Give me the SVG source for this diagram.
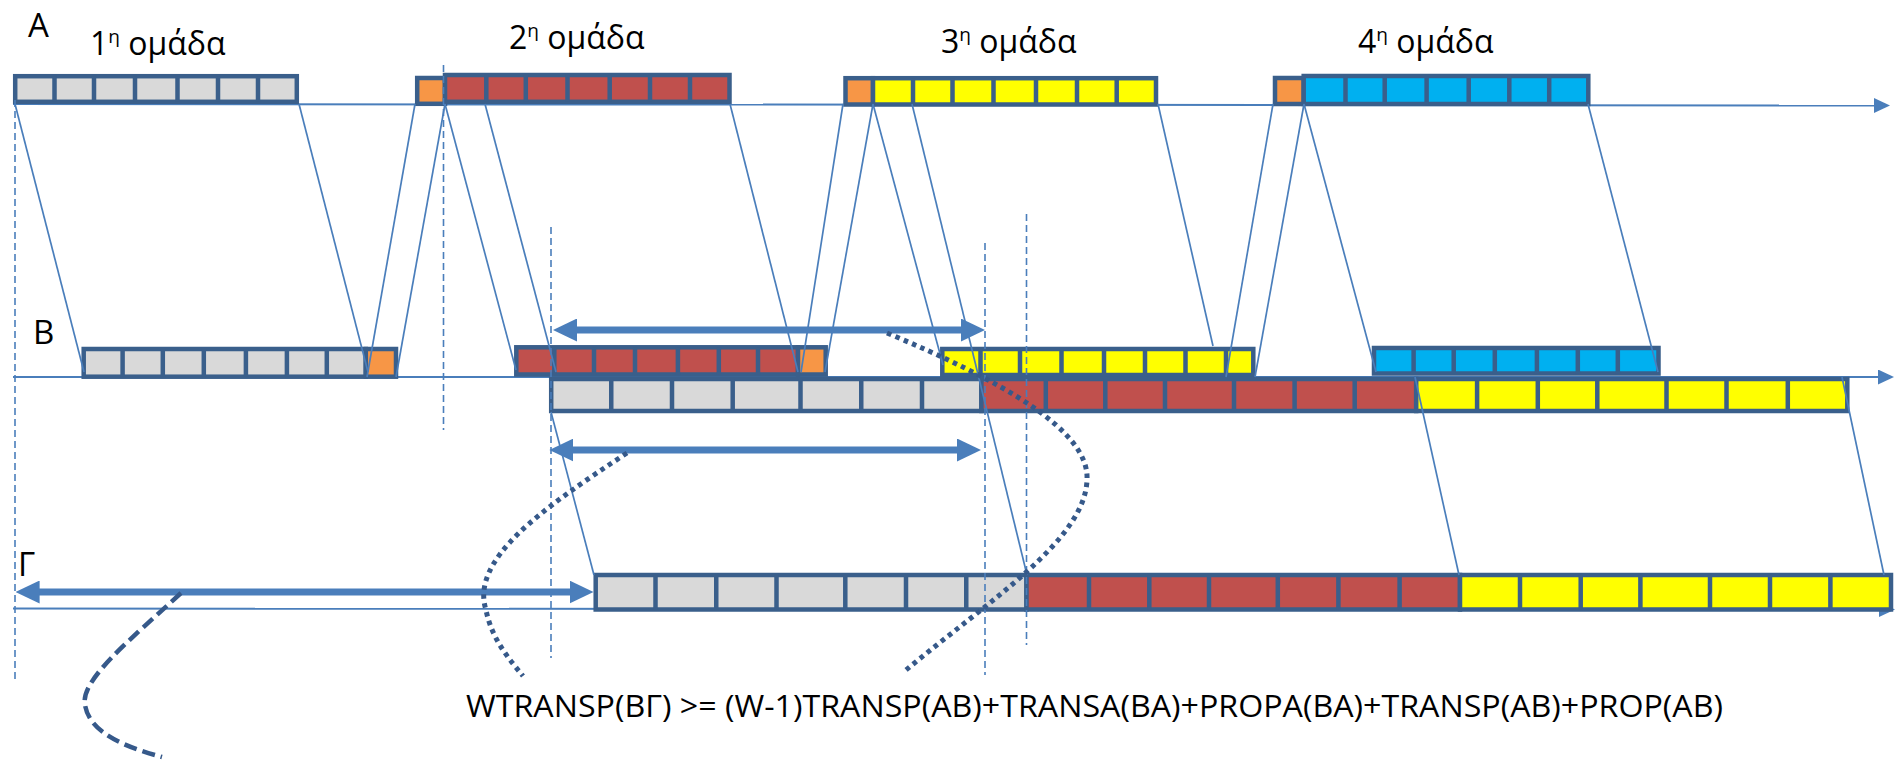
<svg xmlns="http://www.w3.org/2000/svg" width="1897" height="762" viewBox="0 0 1897 762">
<style>
.cell{stroke:#3A5F8B;stroke-width:4.5}
.div{stroke:#3A5F8B;stroke-width:4.5;fill:none}
.gray{fill:#D9D9D9}.red{fill:#C0504D}.org{fill:#F79646}.yel{fill:#FFFF00}.blu{fill:#00B0F0}
.axis{stroke:#4A7EBB;stroke-width:2;fill:none}
.thin{stroke:#4A7EBB;stroke-width:1.7;fill:none}
.vdash{stroke:#4A7EBB;stroke-width:1.6;stroke-dasharray:7 4;fill:none}
.dbl{stroke:#4A7EBB;stroke-width:7;fill:none}
.dot{stroke:#36598A;stroke-width:5;stroke-dasharray:4.5 4.5;fill:none}
.dash{stroke:#36598A;stroke-width:4.5;stroke-dasharray:13 6;fill:none}
text{font-family:"Open Sans","DejaVu Sans",sans-serif;fill:#000}
.lbl{font-size:32px}
.sup{font-size:19px}
.row{font-size:33px}
</style>
<defs>
<marker id="tri" markerUnits="userSpaceOnUse" markerWidth="16" markerHeight="15" refX="1" refY="7.5" orient="auto"><path d="M0,0 L16,7.5 L0,15 z" fill="#4A7EBB"/></marker>
<marker id="big" markerUnits="userSpaceOnUse" markerWidth="24" markerHeight="23" refX="1" refY="11.5" orient="auto-start-reverse"><path d="M0,0 L24,11.5 L0,23 z" fill="#4A7EBB"/></marker>
</defs>
<rect width="1897" height="762" fill="#fff"/>

<g id="axes">
<path class="axis" d="M13,104 L1875,105.5" marker-end="url(#tri)"/>
<path class="axis" d="M13,377 L1879,377" marker-end="url(#tri)"/>
<path class="axis" d="M13,608.5 L1880,609.5" marker-end="url(#tri)"/>
</g>

<g id="labels">
<text class="row" x="28" y="37">A</text>
<text class="row" x="33" y="344">B</text>
<text class="row" x="18" y="576">Γ</text>
<text class="lbl" x="90" y="55">1<tspan class="sup" dy="-12">η</tspan><tspan dy="12"> ομάδα</tspan></text>
<text class="lbl" x="509" y="49">2<tspan class="sup" dy="-12">η</tspan><tspan dy="12"> ομάδα</tspan></text>
<text class="lbl" x="941" y="53">3<tspan class="sup" dy="-12">η</tspan><tspan dy="12"> ομάδα</tspan></text>
<text class="lbl" x="1358" y="53">4<tspan class="sup" dy="-12">η</tspan><tspan dy="12"> ομάδα</tspan></text>
</g>

<g id="A-group1">
<rect class="cell gray" x="15.2" y="76.2" width="281.6" height="25.6"/>
<path class="div" d="M54.5,76.2V101.8M94,76.2V101.8M135,76.2V101.8M177.5,76.2V101.8M218,76.2V101.8M258,76.2V101.8"/>
</g>
<g id="A-group2">
<rect class="cell org" x="417.2" y="78" width="27.8" height="25.8"/>
<rect class="cell red" x="445" y="75" width="284.5" height="26.8"/>
<path class="div" d="M486.3,75V101.8M525.8,75V101.8M567.5,75V101.8M609.7,75V101.8M650,75V101.8M690,75V101.8"/>
</g>
<g id="A-group3">
<rect class="cell org" x="845.5" y="78.2" width="27.5" height="26.3"/>
<rect class="cell yel" x="873" y="78.2" width="283" height="26.3"/>
<path class="div" d="M913,78.2V104.5M952.5,78.2V104.5M993.5,78.2V104.5M1036,78.2V104.5M1077,78.2V104.5M1116.7,78.2V104.5"/>
</g>
<g id="A-group4">
<rect class="cell org" x="1275" y="78" width="28.7" height="26"/>
<rect class="cell blu" x="1303.7" y="76" width="284.6" height="28"/>
<path class="div" d="M1345.5,76V104M1384.7,76V104M1426.6,76V104M1468.7,76V104M1509.3,76V104M1549.2,76V104"/>
</g>

<g id="B-group1">
<rect class="cell gray" x="83.7" y="349" width="282.1" height="27.7"/>
<path class="div" d="M122.6,349V376.7M162.8,349V376.7M203.8,349V376.7M245.9,349V376.7M286.9,349V376.7M326.8,349V376.7"/>
<rect class="cell org" x="365.8" y="349" width="30.2" height="27.7"/>
</g>
<g id="B-group2">
<rect class="cell red" x="516.3" y="347.3" width="281.7" height="27.2"/>
<path class="div" d="M554.3,347.3V374.5M594,347.3V374.5M635,347.3V374.5M677.9,347.3V374.5M718.8,347.3V374.5M758,347.3V374.5"/>
<rect class="cell org" x="798" y="347.3" width="27.7" height="27.2"/>
</g>
<g id="B-group3">
<rect class="cell yel" x="942.3" y="349" width="311" height="26"/>
<path class="div" d="M980.5,349V375M1020,349V375M1061.5,349V375M1104,349V375M1145,349V375M1185.5,349V375M1226,349V375"/>
</g>
<g id="B-group4">
<rect class="cell blu" x="1374" y="348" width="284.5" height="25.5"/>
<path class="div" d="M1413.6,348V373.5M1453.7,348V373.5M1494.8,348V373.5M1536.9,348V373.5M1577.8,348V373.5M1617.8,348V373.5"/>
</g>

<g id="B-forward">
<rect class="cell gray" x="551.2" y="379" width="430.2" height="32"/>
<path class="div" d="M611.25,379V411M672,379V411M732.7,379V411M800.5,379V411M861.25,379V411M922,379V411"/>
<rect class="cell red" x="981.4" y="379" width="434.8" height="32"/>
<path class="div" d="M1045.8,379V411M1105.3,379V411M1165,379V411M1234,379V411M1294.6,379V411M1354.7,379V411"/>
<rect class="cell yel" x="1416.2" y="379" width="431.1" height="32"/>
<path class="div" d="M1477.1,379V411M1537.8,379V411M1597.3,379V411M1666.5,379V411M1726.5,379V411M1787.8,379V411"/>
</g>

<g id="G-row">
<rect class="cell gray" x="595.7" y="575" width="430.8" height="34.5"/>
<path class="div" d="M655.5,575V609.5M716.25,575V609.5M776.5,575V609.5M845.3,575V609.5M906,575V609.5M966.25,575V609.5"/>
<rect class="cell red" x="1026.5" y="575" width="433.5" height="34.5"/>
<path class="div" d="M1089,575V609.5M1149.3,575V609.5M1209,575V609.5M1277.8,575V609.5M1338.4,575V609.5M1399.6,575V609.5"/>
<rect class="cell yel" x="1460" y="575" width="431" height="34.5"/>
<path class="div" d="M1520,575V609.5M1580.7,575V609.5M1640.4,575V609.5M1710,575V609.5M1770,575V609.5M1830.4,575V609.5"/>
</g>

<g id="connectors">
<path class="thin" d="M15,104 L84,372"/>
<path class="thin" d="M299,104 L368,372"/>
<path class="thin" d="M367,377 L415,104"/>
<path class="thin" d="M396,377 L445,104"/>
<path class="thin" d="M445,104 L516,370"/>
<path class="thin" d="M485,104 L556,372"/>
<path class="thin" d="M730,104 L798,372"/>
<path class="thin" d="M801,372 L843,104"/>
<path class="thin" d="M825,372 L873,104"/>
<path class="thin" d="M873,104 L943,365"/>
<path class="thin" d="M912,104 L1027,575"/>
<path class="thin" d="M1158,104 L1213,346"/>
<path class="thin" d="M1226,377 L1273,104"/>
<path class="thin" d="M1255,377 L1304,104"/>
<path class="thin" d="M1304,104 L1376,372"/>
<path class="thin" d="M1588,104 L1658,372"/>
<path class="thin" d="M551,412 L594,575"/>
<path class="thin" d="M1415,377 L1459,575"/>
<path class="thin" d="M1842,377 L1884,575"/>
<path class="vdash" d="M15,100 V683"/>
<path class="vdash" d="M443.5,65 V430"/>
<path class="vdash" d="M551,227 V658"/>
<path class="vdash" d="M985,243 V675"/>
<path class="vdash" d="M1026.5,214 V645"/>
<path class="dbl" d="M576,330 L962,330" marker-start="url(#big)" marker-end="url(#big)"/>
<path class="dbl" d="M572.4,450 L958,450" marker-start="url(#big)" marker-end="url(#big)"/>
<path class="dbl" d="M38.6,592 L570.5,592" marker-start="url(#big)" marker-end="url(#big)"/>
<path class="dot" d="M887,333 C1000,380 1090,430 1087,480 C1085,540 990,600 906,670"/>
<path class="dot" d="M627,453 C540,510 470,560 486,610 C492,640 510,660 523,676"/>
<path class="dash" d="M181,593 C130,640 80,680 85,705 C90,735 130,748 162,757"/>
</g>

<text id="formula" x="466" y="717" font-size="31" textLength="1257" lengthAdjust="spacingAndGlyphs">WTRANSP(BΓ) &gt;= (W-1)TRANSP(AB)+TRANSA(BA)+PROPA(BA)+TRANSP(AB)+PROP(AB)</text>
</svg>
